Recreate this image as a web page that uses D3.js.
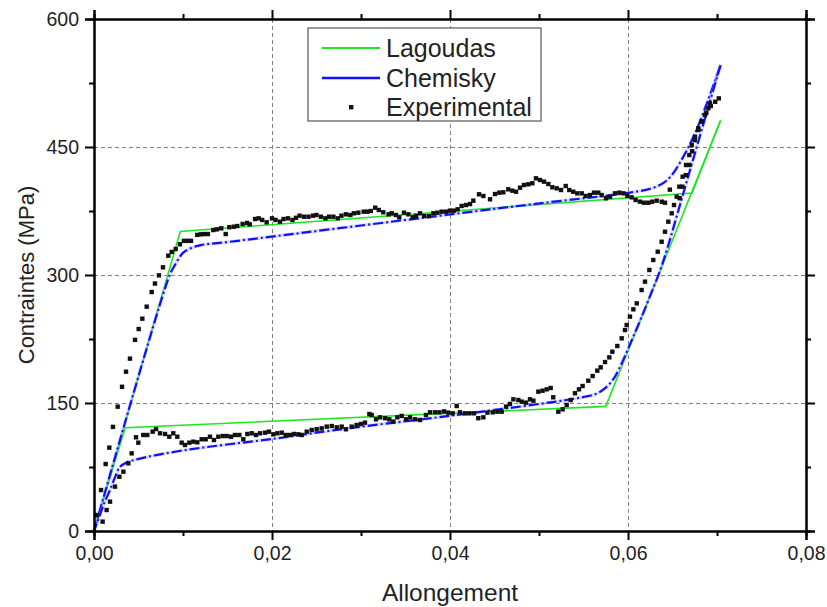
<!DOCTYPE html>
<html>
<head>
<meta charset="utf-8">
<script src="https://cdn.jsdelivr.net/npm/d3@7"></script>
<style>
  html, body { margin: 0; padding: 0; background: #fff; }
  svg { display: block; font-family: "Liberation Sans", Arial, sans-serif; }
</style>
</head>
<body>
<svg id="chart" width="827" height="607"></svg>
<script>
// Axis ticks
const xMajorTicks = [0, 0.02, 0.04, 0.06, 0.08];
const xMinorTicks = [0.01, 0.03, 0.05, 0.07];
const yMajorTicks = [0, 150, 300, 450, 600];
const yMinorTicks = [75, 225, 375, 525];
const xGrid = [0.02, 0.04, 0.06];
const yGrid = [150, 300, 450];

// Lagoudas model: [strain, stress (MPa)]
const lagoudasLoad = [[0, 0], [0.0097, 351], [0.0672, 396], [0.0704, 481]];
const lagoudasUnload = [[0.0704, 481], [0.0575, 146], [0.0035, 121], [0, 0]];

// Chemisky model
const chemiskyLoad = [
  [0, 0], [0.0085, 300], [0.0090, 310], [0.0095, 319], [0.0100, 326], [0.0108, 331],
  [0.0120, 335], [0.0153, 339], [0.0400, 371], [0.0501, 384], [0.0598, 396],
  [0.0625, 401], [0.0640, 408], [0.0650, 418], [0.0658, 431], [0.0668, 450],
  [0.0677, 470], [0.0690, 505], [0.0704, 546]
];
const chemiskyUnload = [
  [0.0704, 546], [0.0690, 496], [0.0675, 442], [0.0660, 388], [0.0645, 334],
  [0.0636, 305], [0.0625, 276], [0.0615, 250], [0.0606, 228], [0.0597, 206],
  [0.0590, 190], [0.0583, 177], [0.0575, 168], [0.0565, 161], [0.0550, 157],
  [0.0531, 153.5], [0.0501, 149], [0.0400, 135], [0.0306, 123], [0.0258, 116.4],
  [0.0200, 107.8], [0.0145, 100.8], [0.0108, 95.7], [0.0070, 89], [0.0048, 84],
  [0.0036, 80], [0.0029, 75], [0.0024, 64], [0.0018, 48], [0.0012, 34],
  [0.0006, 17], [0, 0]
];

// Experimental measurements, loading
const expLoad = [
  [0.0003, 18.7], [0.00079, 48], [0.00131, 78.5], [0.00172, 97.7], [0.00213, 122],
  [0.00266, 145.7], [0.00315, 169], [0.0036, 186.7], [0.00404, 202], [0.00461, 224],
  [0.00502, 236.7], [0.00543, 248.8], [0.00592, 262.9], [0.00648, 280], [0.00685, 290],
  [0.0073, 299.6], [0.00775, 309], [0.00835, 322.6], [0.00873, 327], [0.00918, 330.5],
  [0.00966, 336], [0.0101, 340], [0.0105, 340], [0.0109, 340], [0.0116, 347],
  [0.0120, 347.7], [0.0124, 348], [0.0128, 348], [0.0134, 352.7], [0.0138, 353.5],
  [0.0143, 354.7], [0.0148, 348], [0.0152, 356], [0.0157, 356.6], [0.0161, 357.4],
  [0.0167, 359.8], [0.0172, 361], [0.0175, 359.4], [0.0181, 365.6], [0.0185, 366.4],
  [0.0189, 364.5], [0.0194, 361.8], [0.0200, 366.4], [0.0204, 364.5], [0.0209, 362.5],
  [0.0213, 365.6], [0.0218, 366.4], [0.0223, 364.5], [0.0227, 367], [0.0231, 369.5],
  [0.0236, 368.3], [0.0241, 368.3], [0.0246, 369.5], [0.0250, 370.3], [0.0255, 368.3],
  [0.0260, 366.4], [0.0264, 368.3], [0.0269, 368.3], [0.0274, 366.4], [0.0278, 369.5],
  [0.0283, 371.1], [0.0288, 370.3], [0.0292, 372.3], [0.0297, 373], [0.0303, 374.2],
  [0.0307, 374.2], [0.0311, 375], [0.0316, 378.9], [0.0320, 376.2], [0.0325, 373.5],
  [0.0331, 371.1], [0.03345, 372.3], [0.03393, 370.3], [0.0343, 367.6], [0.03483, 373],
  [0.03532, 371.1], [0.03581, 367.6], [0.03618, 369.1], [0.03663, 372.3], [0.03711, 369.1],
  [0.03764, 369.1], [0.03813, 372.3], [0.03858, 373], [0.03906, 374.2], [0.03955, 374.2],
  [0.0400, 375.4], [0.04045, 375.4], [0.04086, 377], [0.04131, 380.9], [0.0418, 382],
  [0.04225, 383.2], [0.04262, 387.1], [0.04326, 394.6], [0.04375, 392.6], [0.0445, 388.7],
  [0.04506, 394.9], [0.04554, 396.5], [0.04599, 396.9], [0.04655, 400.4], [0.047, 398.8],
  [0.04742, 397.6], [0.04787, 402.3], [0.04831, 405.5], [0.0488, 406.3], [0.04925, 407.5],
  [0.04966, 413.3], [0.05011, 411.3], [0.05056, 409.4], [0.05105, 406.6], [0.0515, 402.8],
  [0.05199, 401.6], [0.05247, 399.6], [0.053, 404.3], [0.0534, 399.6], [0.05385, 397.6],
  [0.0543, 395.7], [0.0548, 395.7], [0.05524, 392.6], [0.05573, 393.7], [0.05618, 396.5],
  [0.05666, 396.5], [0.05704, 393.7], [0.05753, 389.9], [0.05798, 391.8], [0.05854, 395.7],
  [0.05903, 396.5], [0.05948, 395.7], [0.05993, 392.6], [0.06041, 391], [0.06086, 387.9],
  [0.06135, 385.9], [0.0618, 384.7], [0.06228, 384.7], [0.06273, 385.9], [0.06322, 387.1],
  [0.06379, 385.9], [0.06416, 384.7], [0.0647, 400], [0.0658, 390], [0.0661, 403.5],
  [0.0665, 417], [0.0669, 429], [0.0672, 445], [0.0675, 458], [0.0679, 470],
  [0.0683, 480], [0.0688, 490], [0.0693, 498], [0.0698, 503], [0.0702, 507]
];

// Experimental measurements, unloading
const expUnload = [
  [0.06921, 501.2], [0.06903, 495.3], [0.06865, 487.5], [0.06828, 479.6], [0.0679, 471.9],
  [0.06753, 462], [0.06716, 452.3], [0.06689, 440.6], [0.06652, 428.9], [0.06614, 415.2],
  [0.06577, 403.5], [0.06547, 391.8], [0.06517, 382], [0.06491, 372.3], [0.06453, 362.5],
  [0.06416, 350.7], [0.06378, 339], [0.06334, 327.3], [0.06284, 317.6], [0.0624, 305.9],
  [0.06191, 292.2], [0.06153, 282.4], [0.06098, 266.8], [0.0606, 259.8], [0.06022, 251.2],
  [0.05985, 241.4], [0.05966, 235.5], [0.05929, 225.8], [0.0588, 216.8], [0.05824, 210.1],
  [0.0579, 203.5], [0.05742, 198], [0.05693, 191.8], [0.05655, 187.9], [0.05603, 181.6],
  [0.05554, 176.1], [0.0549, 169.9], [0.05449, 166], [0.05404, 161.4], [0.05356, 153.5],
  [0.05311, 147.7], [0.05266, 142.6], [0.05217, 139.8], [0.0516, 156.7], [0.05131, 167.6],
  [0.05086, 166], [0.0504, 164.4], [0.04993, 163.3], [0.04937, 152.7], [0.04899, 154.3],
  [0.04854, 150.4], [0.04806, 151.6], [0.04768, 153.5], [0.04712, 154.3], [0.04674, 148.9],
  [0.0463, 145.8], [0.04581, 139.8], [0.04532, 139.8], [0.0448, 139.1], [0.0442, 138.7],
  [0.04375, 133.2], [0.04318, 132.2], [0.0427, 137.9], [0.04217, 137.9], [0.04169, 137.9],
  [0.04112, 139.1], [0.04075, 146.5], [0.0403, 137.9], [0.03981, 138.7], [0.03933, 140.2],
  [0.03881, 139.1], [0.03832, 139.1], [0.03776, 139.1], [0.0373, 135.9], [0.03663, 130.1],
  [0.03607, 130.9], [0.03551, 133.2], [0.03506, 130.9], [0.03457, 134.8], [0.03408, 133.2],
  [0.03363, 128.2], [0.03318, 130.9], [0.0327, 132.2], [0.03214, 133.2], [0.03169, 130.9],
  [0.0312, 135.9], [0.03094, 137.1], [0.03045, 127], [0.02999, 125.4], [0.02951, 124.2],
  [0.02895, 122.3], [0.02831, 119.2], [0.02783, 122.3], [0.02727, 121.5], [0.02671, 123],
  [0.02615, 122.3], [0.02558, 120.3], [0.02502, 119.2], [0.02446, 118.4], [0.0239, 116.4],
  [0.02334, 112.5], [0.02296, 113.3], [0.02247, 113.7], [0.02202, 112.5], [0.02154, 112.5],
  [0.02109, 115.2], [0.0206, 114.5], [0.02015, 113.3], [0.01966, 116.4], [0.01921, 115.2],
  [0.01865, 114.5], [0.0182, 112.5], [0.01772, 114.5], [0.01723, 113.7], [0.01678, 107.5],
  [0.01633, 112.5], [0.01584, 112.5], [0.01539, 110.5], [0.01491, 111.3], [0.01446, 111.3],
  [0.01397, 110.5], [0.01348, 106.6], [0.01303, 110.5], [0.01255, 107.5], [0.0121, 107.5],
  [0.01161, 103.9], [0.01116, 104.7], [0.01071, 103.5], [0.01022, 100.8], [0.00985, 103.5],
  [0.00936, 110.5], [0.00891, 114.5], [0.00846, 110.5], [0.00798, 113.7], [0.00742, 114.5],
  [0.00697, 119.5], [0.00659, 116.4], [0.00599, 112.5], [0.00554, 112.5], [0.00498, 103.5],
  [0.00472, 109.8], [0.00423, 91], [0.00386, 79.3], [0.0033, 69.5], [0.00285, 63.6],
  [0.00236, 52], [0.0018, 34.4], [0.00142, 24.6], [0.00097, 11]
];

const legendItems = ["Lagoudas", "Chemisky", "Experimental"];

// Layout
const W = 827, H = 607;
const margin = { top: 19, right: 21, bottom: 76, left: 94 };
const svg = d3.select("#chart");

const x = d3.scaleLinear().domain([0, 0.08]).range([margin.left, W - margin.right]);
const y = d3.scaleLinear().domain([0, 600]).range([H - margin.bottom, margin.top]);

const GREEN = "#1ee61e";
const BLUE = "#1010ff";
const fmtComma = v => d3.format(".2f")(v).replace(".", ",");

// Grid
const grid = svg.append("g").attr("stroke", "#808080").attr("stroke-width", 1)
  .attr("stroke-dasharray", "4,3").attr("fill", "none");
grid.selectAll("line.vx").data(xGrid).join("line")
  .attr("x1", d => Math.round(x(d)) + 0.5).attr("x2", d => Math.round(x(d)) + 0.5)
  .attr("y1", y(600)).attr("y2", y(0));
grid.selectAll("line.hy").data(yGrid).join("line")
  .attr("y1", d => Math.round(y(d)) + 0.5).attr("y2", d => Math.round(y(d)) + 0.5)
  .attr("x1", x(0)).attr("x2", x(0.08));

// Models
const lineGen = d3.line().x(d => x(d[0])).y(d => y(d[1]));
const smoothGen = d3.line().x(d => x(d[0])).y(d => y(d[1])).curve(d3.curveCatmullRom.alpha(0.5));

const plot = svg.append("g");
[lagoudasLoad, lagoudasUnload].forEach(arr => {
  plot.append("path").datum(arr).attr("d", lineGen)
    .attr("fill", "none").attr("stroke", GREEN).attr("stroke-width", 1.6);
});
[chemiskyLoad, chemiskyUnload].forEach(arr => {
  plot.append("path").datum(arr).attr("d", smoothGen)
    .attr("fill", "none").attr("stroke", "#a8a8ff").attr("stroke-width", 3.4)
    .attr("stroke-opacity", 0.4);
  plot.append("path").datum(arr).attr("d", smoothGen)
    .attr("fill", "none").attr("stroke", BLUE).attr("stroke-width", 2.2)
    .attr("stroke-dasharray", "10,3,2,3");
});

// Experimental points
const expAll = expLoad.concat(expUnload);
plot.selectAll("rect.exp").data(expAll).join("rect")
  .attr("x", d => x(d[0]) - 2.2).attr("y", d => y(d[1]) - 2.2)
  .attr("width", 4.4).attr("height", 4.4).attr("fill", "#111");

// Axes
const axisG = svg.append("g");
const axBottom = axisG.append("g").attr("transform", `translate(0,${y(0)})`)
  .call(d3.axisBottom(x).tickValues(xMajorTicks).tickSize(9).tickPadding(6).tickFormat(fmtComma));
axBottom.append("g").call(d3.axisBottom(x).tickValues(xMinorTicks).tickSize(5).tickFormat(""));

const axLeft = axisG.append("g").attr("transform", `translate(${x(0)},0)`)
  .call(d3.axisLeft(y).tickValues(yMajorTicks).tickSize(9).tickPadding(6).tickFormat(d3.format("d")));
axLeft.append("g").call(d3.axisLeft(y).tickValues(yMinorTicks).tickSize(5).tickFormat(""));

const axRight = axisG.append("g").attr("transform", `translate(${x(0.08)},0)`)
  .call(d3.axisRight(y).tickValues(yMajorTicks).tickSize(9).tickFormat(""));
axRight.append("g").call(d3.axisRight(y).tickValues(yMinorTicks).tickSize(5).tickFormat(""));

const axTop = axisG.append("g").attr("transform", `translate(0,${y(600)})`)
  .call(d3.axisTop(x).tickValues(xMajorTicks).tickSize(9).tickFormat(""));
axTop.append("g").call(d3.axisTop(x).tickValues(xMinorTicks).tickSize(5).tickFormat(""));

axisG.selectAll(".domain").attr("stroke", "#000").attr("stroke-width", 2);
axisG.selectAll(".tick line").attr("stroke", "#000").attr("stroke-width", 2);
axisG.selectAll(".tick text").attr("font-size", 19.5).attr("fill", "#222")
  .attr("font-family", "'Liberation Sans', Arial, sans-serif");

// Axis titles
svg.append("text").attr("x", (x(0) + x(0.08)) / 2).attr("y", 601)
  .attr("text-anchor", "middle").attr("font-size", 24.5).attr("fill", "#222").text("Allongement");
svg.append("text").attr("transform", `translate(34,${(y(0) + y(600)) / 2}) rotate(-90)`)
  .attr("text-anchor", "middle").attr("font-size", 22).attr("fill", "#222").text("Contraintes (MPa)");

// Legend
const lg = svg.append("g").attr("transform", "translate(308,28)");
lg.append("rect").attr("width", 233).attr("height", 93)
  .attr("fill", "#fff").attr("stroke", "#555").attr("stroke-width", 1.2);
const rowY = [20, 50, 79];
lg.append("line").attr("x1", 14).attr("x2", 72).attr("y1", rowY[0]).attr("y2", rowY[0])
  .attr("stroke", GREEN).attr("stroke-width", 2);
lg.append("line").attr("x1", 14).attr("x2", 72).attr("y1", rowY[1]).attr("y2", rowY[1])
  .attr("stroke", BLUE).attr("stroke-width", 2.6);
lg.append("rect").attr("x", 41).attr("y", rowY[2] - 2).attr("width", 4.4).attr("height", 4.4).attr("fill", "#111");
lg.selectAll("text.lab").data(legendItems).join("text")
  .attr("x", 78).attr("y", (d, i) => rowY[i] + 9)
  .attr("font-size", 25).attr("fill", "#222").text(d => d);
</script>
</body>
</html>
